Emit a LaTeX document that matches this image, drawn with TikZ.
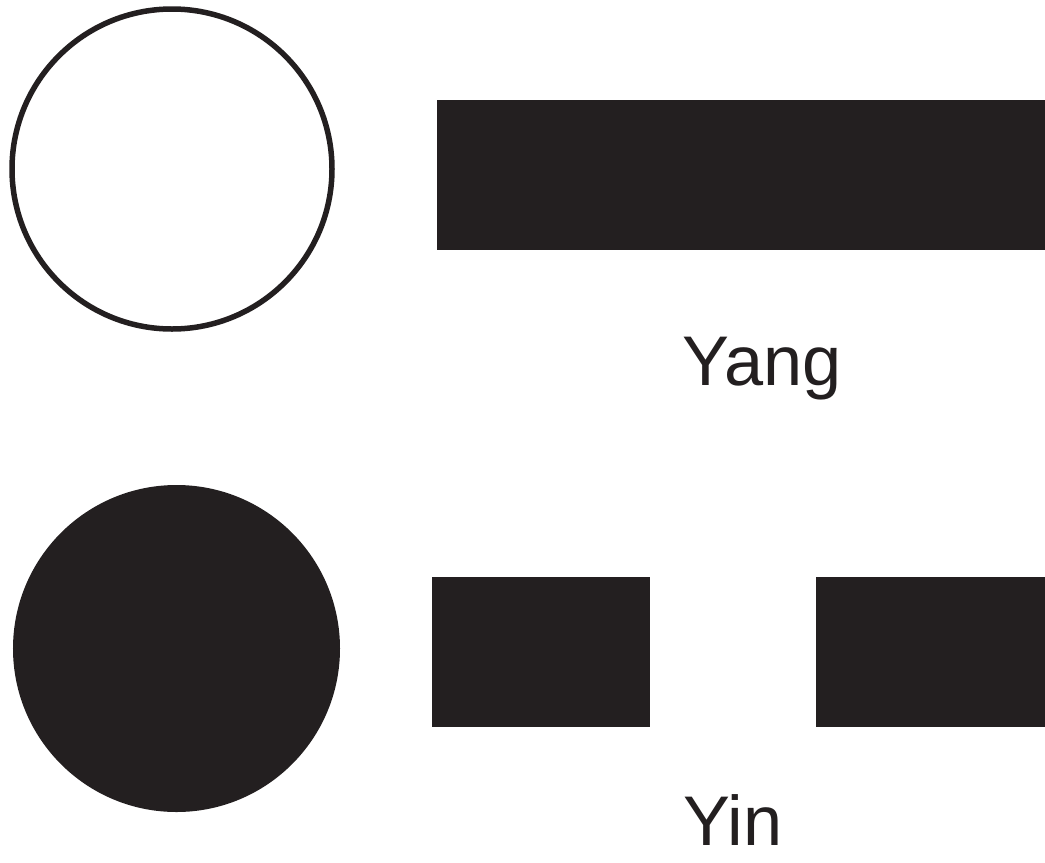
\documentclass[tikz,border=0pt]{standalone}
\usepackage{fontspec}
\setmainfont{Liberation Sans}
\usepackage{tikz}
\usetikzlibrary{positioning}
\usepackage{xcolor}
\definecolor{InkBlack}{HTML}{231F20}

\begin{document}
\begin{tikzpicture}[
  disc/.style={circle,inner sep=0pt,minimum size=3.20cm},
  bar/.style={rectangle,fill=InkBlack,inner sep=0pt,minimum height=1.5cm},
  label/.style={font=\fontsize{20}{24}\selectfont,text=InkBlack,anchor=base,inner sep=0pt}]
\useasboundingbox (0,0) rectangle (10.45,8.62);
% yang
\node[disc,draw=InkBlack,line width=0.055cm] (yangdisc) at (1.72,6.93) {};
\node[bar,minimum width=6.08cm] (yangbar) at (7.41,6.875) {};
\node[label] (yanglabel) at (7.62,4.77) {Yang};
% yin
\node[disc,fill=InkBlack,minimum size=3.27cm] (yindisc) at (1.765,2.135) {};
\node[bar,minimum width=2.18cm] (yinleft) at (5.41,2.10) {};
\node[bar,minimum width=2.29cm] (yinright) at (9.305,2.10) {};
\node[label] (yinlabel) at (7.33,0.17) {Yin};
\end{tikzpicture}
\end{document}
